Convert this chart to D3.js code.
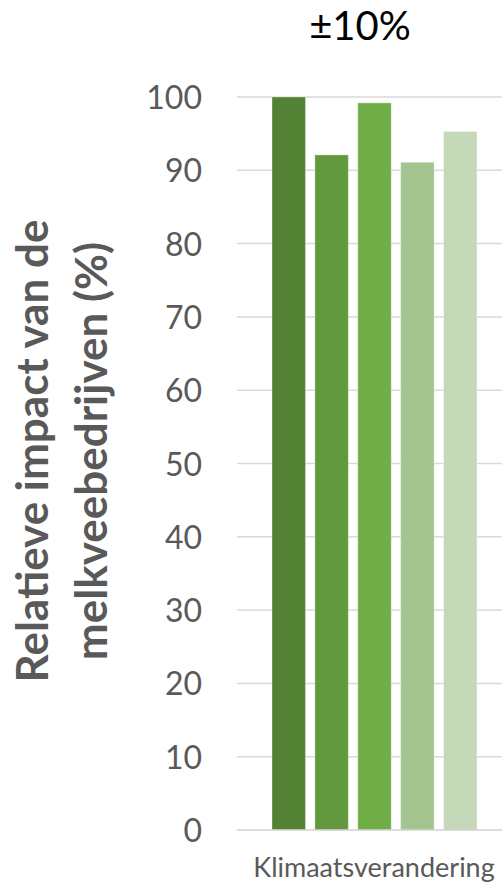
<!DOCTYPE html>
<html><head><meta charset="utf-8">
<script src="https://cdn.jsdelivr.net/npm/d3@7"></script>
<style>body{margin:0;background:#fff}svg{display:block}</style>
</head><body>
<script>
const categories = ["Klimaatsverandering"];
const seriesNames = ["S1","S2","S3","S4","S5"];
const seriesValues = [100, 92.1, 99.2, 91.1, 95.3];
const seriesColors = ["#548235","#62993e","#70ad47","#a3c48e","#c5d8b8"];
const yTicks = [0,10,20,30,40,50,60,70,80,90,100];
const title = "±10%";
const yTitle = ["Relatieve impact van de","melkveebedrijven (%)"];

const W = 502, H = 882;
const svg = d3.select("body").append("svg").attr("width", W).attr("height", H);
const font = "Lato, 'Open Sans', sans-serif";

const y = d3.scaleLinear().domain([0,100]).range([830, 97]);
const x0 = d3.scaleBand().domain(categories).range([237, 503]);
const x1 = d3.scaleBand().domain(seriesNames).range([x0(categories[0]) + 35, x0(categories[0]) + 35 + 41*5]).paddingInner(9/41).paddingOuter(0);

// gridlines
svg.append("g").selectAll("line").data(yTicks.filter(d => d > 0)).join("line")
  .attr("x1", 237).attr("x2", W).attr("y1", d => y(d)).attr("y2", d => y(d))
  .attr("stroke", "#d9d9d9").attr("stroke-width", 1.5);

// y axis labels
const yAxis = d3.axisLeft(y).tickValues(yTicks).tickSize(0).tickPadding(0);
const ga = svg.append("g").attr("transform", "translate(202,0)").call(yAxis);
ga.select(".domain").remove();
ga.selectAll("text").attr("font-family", font).attr("font-size", 32).attr("fill", "#595959").attr("dy", "0.36em");

// bars
svg.append("g").selectAll("rect").data(seriesValues).join("rect")
  .attr("x", (d,i) => x1(seriesNames[i]))
  .attr("width", x1.bandwidth())
  .attr("y", d => y(d))
  .attr("height", d => y(0) - y(d))
  .attr("fill", (d,i) => seriesColors[i])
  .attr("stroke", "#ffffff").attr("stroke-opacity", 0.35).attr("stroke-width", 1);

// x axis line
svg.append("line").attr("x1", 237).attr("x2", W).attr("y1", y(0)).attr("y2", y(0))
  .attr("stroke", "#d0d0d0").attr("stroke-width", 1.5);

// x labels
svg.append("g").selectAll("text").data(categories).join("text")
  .attr("x", d => x0(d) + x0.bandwidth()/2 + 4).attr("y", 877)
  .attr("text-anchor", "middle").attr("font-family", font).attr("font-size", 27).attr("fill", "#595959")
  .text(d => d);

// title
svg.append("text").attr("x", 360).attr("y", 40).attr("text-anchor", "middle")
  .attr("font-family", font).attr("font-size", 40).attr("fill", "#000").text(title);

// y title
const yt = svg.append("text").attr("transform", "translate(0,451) rotate(-90)")
  .attr("text-anchor", "middle").attr("font-family", font).attr("font-weight", "bold")
  .attr("font-size", 44).attr("fill", "#595959");
yt.selectAll("tspan").data(yTitle).join("tspan")
  .attr("x", 0).attr("y", (d,i) => 48 + i*59).text(d => d);
</script>
</body></html>
